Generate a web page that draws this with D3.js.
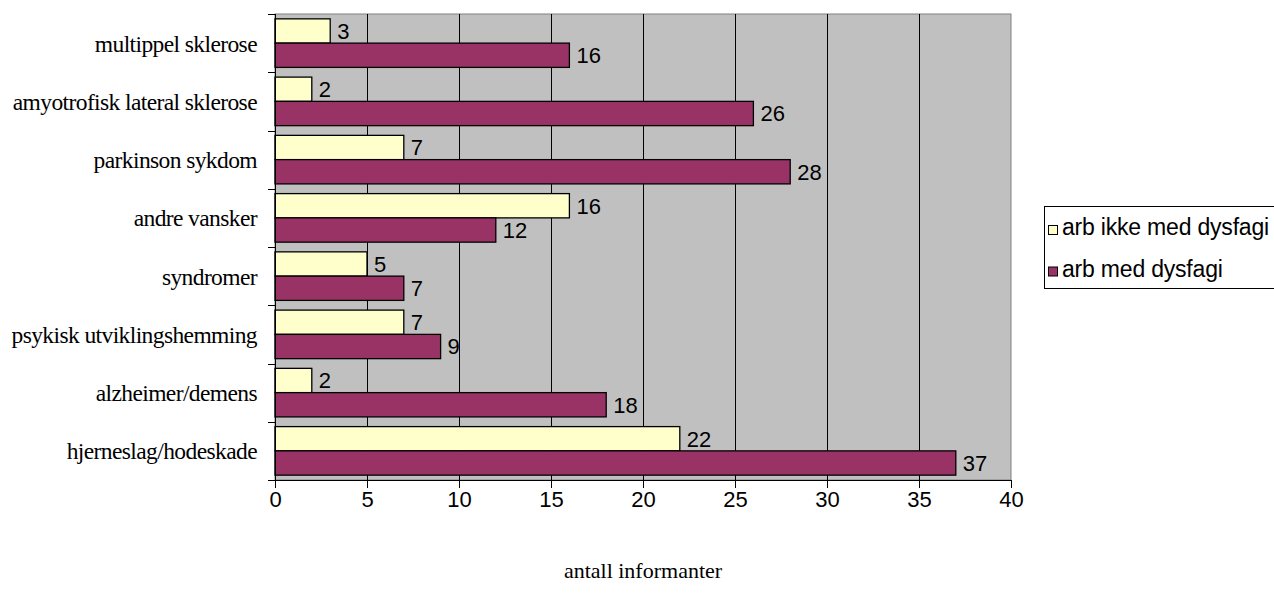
<!DOCTYPE html>
<html>
<head>
<meta charset="utf-8">
<script src="https://cdn.jsdelivr.net/npm/d3@7"></script>
<style>
  html, body { margin: 0; padding: 0; background: #ffffff; }
  svg { display: block; }
</style>
</head>
<body>
<svg id="chart" width="1274" height="602"></svg>
<script>
// Diagnosis groups, listed top to bottom
const categories = [
  "multippel sklerose",
  "amyotrofisk lateral sklerose",
  "parkinson sykdom",
  "andre vansker",
  "syndromer",
  "psykisk utviklingshemming",
  "alzheimer/demens",
  "hjerneslag/hodeskade"
];
const seriesNames = ["arb ikke med dysfagi", "arb med dysfagi"];
const ikkeMedDysfagi = [3, 2, 7, 16, 5, 7, 2, 22];
const medDysfagi = [16, 26, 28, 12, 7, 9, 18, 37];
const xTicks = [0, 5, 10, 15, 20, 25, 30, 35, 40];
const xTitle = "antall informanter";

const seriesValues = [ikkeMedDysfagi, medDysfagi];
const colors = ["#ffffcc", "#993366"];

const svg = d3.select("#chart");
const plot = { left: 275, right: 1011, top: 14, bottom: 480 };

const x = d3.scaleLinear().domain([0, 40]).range([plot.left, plot.right]);
const y = d3.scaleBand().domain(categories).range([plot.top, plot.bottom]).paddingInner(0).paddingOuter(0);
const inner = d3.scaleBand().domain(seriesNames).range([0, y.bandwidth()]).paddingInner(0).paddingOuter(0.2);

// plot background
svg.append("rect")
  .attr("x", plot.left).attr("y", plot.top)
  .attr("width", plot.right - plot.left).attr("height", plot.bottom - plot.top)
  .attr("fill", "#c0c0c0")
  .attr("stroke", "#808080").attr("stroke-width", 1);

// vertical gridlines
svg.append("g")
  .selectAll("line")
  .data(xTicks.slice(1, -1))
  .join("line")
  .attr("x1", d => Math.round(x(d)) + 0.5).attr("x2", d => Math.round(x(d)) + 0.5)
  .attr("y1", plot.top).attr("y2", plot.bottom)
  .attr("stroke", "#000").attr("stroke-width", 1);

// bars
const groups = svg.append("g")
  .selectAll("g")
  .data(categories)
  .join("g")
  .attr("transform", d => `translate(0,${y(d)})`);

seriesNames.forEach((name, si) => {
  groups.append("rect")
    .attr("x", x(0))
    .attr("y", inner(name))
    .attr("width", (d, i) => x(seriesValues[si][i]) - x(0))
    .attr("height", inner.bandwidth())
    .attr("fill", colors[si])
    .attr("stroke", "#000")
    .attr("stroke-width", 1.3);

  groups.append("text")
    .attr("x", (d, i) => x(seriesValues[si][i]) + 7)
    .attr("y", inner(name) + inner.bandwidth() / 2)
    .attr("dy", "0.36em")
    .attr("font-family", "Liberation Sans, Arial, sans-serif")
    .attr("font-size", 22)
    .attr("fill", "#000")
    .text((d, i) => seriesValues[si][i]);
});

// x axis
const xAxis = d3.axisBottom(x).tickValues(xTicks).tickSize(8).tickPadding(3).tickFormat(d3.format("d"));
const gx = svg.append("g")
  .attr("transform", `translate(0,${plot.bottom})`)
  .call(xAxis);
gx.select(".domain").attr("stroke", "#000");
gx.selectAll(".tick line").attr("stroke", "#000");
gx.selectAll("text")
  .attr("font-family", "Liberation Sans, Arial, sans-serif")
  .attr("font-size", 22)
  .attr("fill", "#000");

// y axis with category labels
const yTickPos = d3.range(categories.length + 1).map(i => plot.top + i * y.step());
const gy = svg.append("g");
gy.append("line")
  .attr("x1", plot.left + 0.5).attr("x2", plot.left + 0.5)
  .attr("y1", plot.top).attr("y2", plot.bottom)
  .attr("stroke", "#000");
gy.selectAll(".ytick")
  .data(yTickPos)
  .join("line")
  .attr("class", "ytick")
  .attr("x1", plot.left - 7).attr("x2", plot.left)
  .attr("y1", d => Math.round(d) + 0.5).attr("y2", d => Math.round(d) + 0.5)
  .attr("stroke", "#000");
gy.selectAll(".ylabel")
  .data(categories)
  .join("text")
  .attr("class", "ylabel")
  .attr("x", plot.left - 18)
  .attr("y", d => y(d) + y.bandwidth() / 2)
  .attr("dy", "0.36em")
  .attr("text-anchor", "end")
  .attr("font-family", "Liberation Serif, Times New Roman, serif")
  .attr("font-size", 23.5)
  .attr("letter-spacing", -0.6)
  .attr("fill", "#000")
  .text(d => d);

// x axis title
svg.append("text")
  .attr("x", (plot.left + plot.right) / 2)
  .attr("y", 578)
  .attr("text-anchor", "middle")
  .attr("font-family", "Liberation Serif, Times New Roman, serif")
  .attr("font-size", 22)
  .attr("fill", "#000")
  .text(xTitle);

// legend
const legend = svg.append("g");
legend.append("rect")
  .attr("x", 1044.5).attr("y", 206.5)
  .attr("width", 240).attr("height", 82)
  .attr("fill", "#fff").attr("stroke", "#000").attr("stroke-width", 1);
const items = legend.selectAll(".item")
  .data(seriesNames)
  .join("g")
  .attr("class", "item")
  .attr("transform", (d, i) => `translate(1048,${225 + i * 41.5})`);
items.append("rect")
  .attr("x", 0.5).attr("y", 0.5)
  .attr("width", 9).attr("height", 9)
  .attr("fill", (d, i) => colors[i])
  .attr("stroke", "#000").attr("stroke-width", 1);
items.append("text")
  .attr("x", 14).attr("y", 10)
  .attr("font-family", "Liberation Sans, Arial, sans-serif")
  .attr("font-size", 23)
  .attr("letter-spacing", -0.2)
  .attr("fill", "#000")
  .text(d => d);
</script>
</body>
</html>
